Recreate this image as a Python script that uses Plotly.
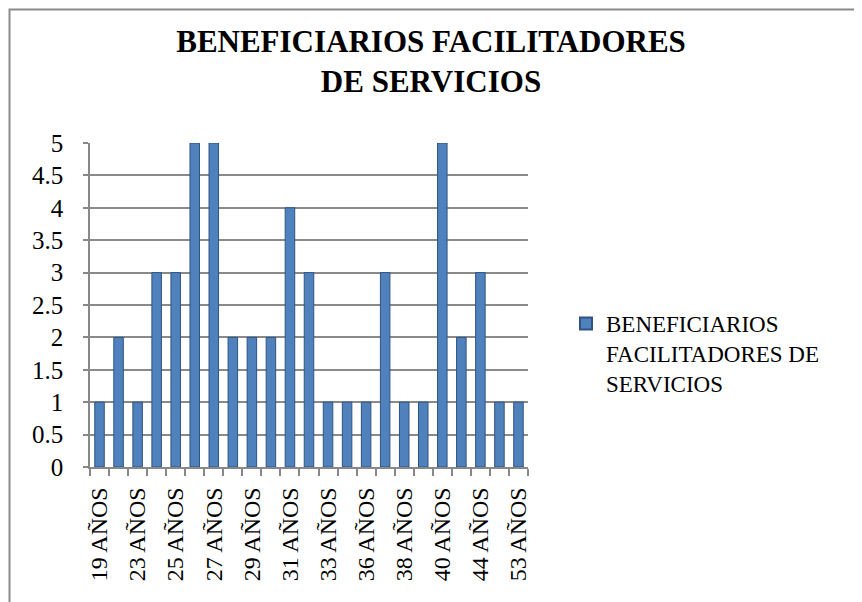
import plotly.graph_objects as go

ages = ["19 AÑOS", "21 AÑOS", "23 AÑOS", "24 AÑOS", "25 AÑOS", "26 AÑOS",
        "27 AÑOS", "28 AÑOS", "29 AÑOS", "30 AÑOS", "31 AÑOS", "32 AÑOS",
        "33 AÑOS", "35 AÑOS", "36 AÑOS", "37 AÑOS", "38 AÑOS", "39 AÑOS",
        "40 AÑOS", "42 AÑOS", "44 AÑOS", "47 AÑOS", "53 AÑOS"]
beneficiarios = [1, 2, 1, 3, 3, 5, 5, 2, 2, 2, 4, 3, 1, 1, 1, 3, 1, 1, 5, 2, 3, 1, 1]
y_ticks = [0, 0.5, 1, 1.5, 2, 2.5, 3, 3.5, 4, 4.5, 5]
y_tick_text = ["0", "0.5", "1", "1.5", "2", "2.5", "3", "3.5", "4", "4.5", "5"]
series_name = "BENEFICIARIOS<br>FACILITADORES DE<br>SERVICIOS"
title_text = "<b>BENEFICIARIOS FACILITADORES<br>DE SERVICIOS</b>"

idx = list(range(len(ages)))
shown = idx[::2]

# page body has an 8px margin, so figure coords = screen coords - 8
OFF = 8
W, H = 862, 602
L, R, T, B = 90 - OFF, 528 - OFF, 143 - OFF, 467 - OFF

def fx(p):  # figure pixel -> paper x
    return (p - L) / (R - L)

def fy(p):  # figure pixel -> paper y
    return (B - p) / (B - T)

def px(p):  # screen pixel -> paper x
    return fx(p - OFF)

def py(p):  # screen pixel -> paper y
    return fy(p - OFF)

fig = go.Figure()
fig.add_trace(go.Bar(
    x=idx, y=beneficiarios, name=series_name, width=0.5,
    marker=dict(color="#4F81BD", line=dict(color="#2F5483", width=1)),
))

serif = "Liberation Serif"
fig.update_layout(
    width=W, height=H,
    margin=dict(l=L, r=W - R, t=T, b=H - B, autoexpand=False),
    paper_bgcolor="white", plot_bgcolor="white",
    title=dict(text=title_text, x=(431 - OFF) / W, xanchor="center",
               y=1 - 44 / H, yanchor="top",
               font=dict(family=serif, size=31, color="black")),
    showlegend=True,
    legend=dict(x=px(566), xanchor="left", y=py(302), yanchor="top",
                valign="top", font=dict(family=serif, size=23, color="black"),
                bgcolor="rgba(0,0,0,0)", itemsizing="constant"),
    bargap=0.5,
    xaxis=dict(range=[-0.5, len(ages) - 0.5], tickmode="array",
               tickvals=shown, ticktext=[ages[i] for i in shown],
               tickangle=-90, ticks="", showgrid=False,
               showline=True, linecolor="#888888", linewidth=1.5,
               ticklabelstandoff=9,
               tickfont=dict(family=serif, size=24, color="black"),
               minor=dict(ticks="outside", tick0=-0.5, dtick=1, ticklen=7,
                          tickcolor="#888888", tickwidth=1.5, showgrid=False),
               fixedrange=True),
    yaxis=dict(range=[0, 5.0001], tickmode="array", tickvals=y_ticks,
               ticktext=y_tick_text, ticks="outside", ticklen=5,
               tickcolor="#888888", tickwidth=1.5,
               showgrid=True, gridcolor="#8a8a8a", gridwidth=1.5,
               showline=True, linecolor="#888888", linewidth=1.5,
               zeroline=False, ticklabelstandoff=15,
               tickfont=dict(family=serif, size=25, color="black")),
    shapes=[dict(type="rect", xref="paper", yref="paper",
                 x0=fx(1.5), x1=fx(851), y0=fy(1.5), y1=fy(640),
                 line=dict(color="#8a8a8a", width=2), fillcolor="rgba(0,0,0,0)",
                 layer="below")],
)

fig.write_html("out.html")
